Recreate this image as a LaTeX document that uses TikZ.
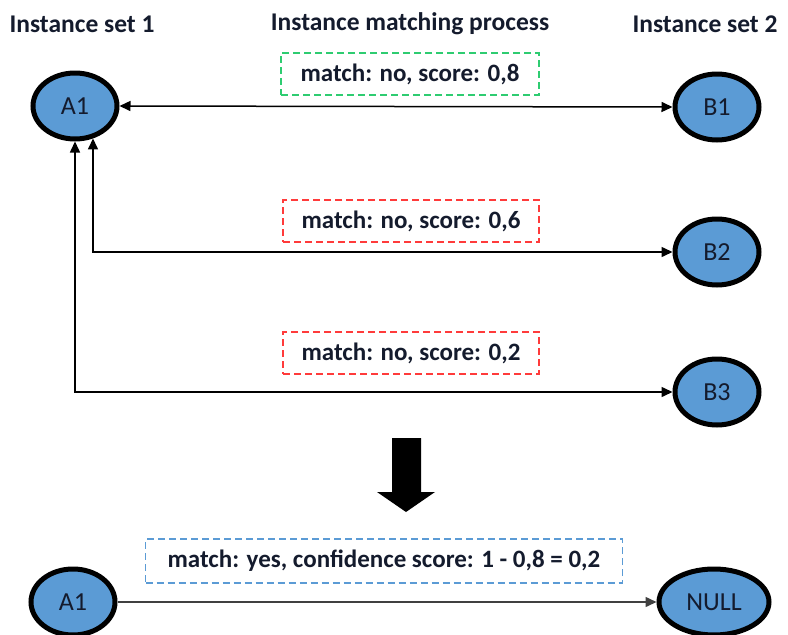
\documentclass[tikz,border=0pt]{standalone}
\usepackage{fontspec}
\setmainfont{Carlito}
\usetikzlibrary{shapes.geometric,arrows.meta,calc}
\definecolor{nodeblue}{HTML}{5B9BD5}
\definecolor{boxgreen}{HTML}{2ECC71}
\definecolor{boxred}{HTML}{FF3B3B}
\definecolor{boxblue}{HTML}{5B9BD5}
\definecolor{txt}{HTML}{141B2D}
\tikzset{
  inst/.style={ellipse, draw=black, line width=5pt, fill=nodeblue, minimum width=84pt, minimum height=66pt, inner sep=0pt, font=\fontsize{26}{30}\selectfont, text=txt},
  heading/.style={font=\bfseries\fontsize{25.5}{30}\selectfont, text=txt},
  scorebox/.style={draw, dash pattern=on 7pt off 4pt, line width=1.2pt, font=\bfseries\fontsize{25}{30}\selectfont, text=txt, inner sep=0pt, minimum height=42pt},
  conn/.style={line width=1.5pt, -{Triangle[length=11pt,width=10pt]}},
  biconn/.style={line width=1.5pt, {Triangle[length=11pt,width=10pt]}-{Triangle[length=11pt,width=10pt]}},
}
\begin{document}
\begin{tikzpicture}[x=1pt,y=-1pt]
\useasboundingbox (0,0) rectangle (788,635);
% headings
\node[heading] (h1) at (82,24) {Instance set 1};
\node[heading] (h2) at (410,24) {Instance matching process};
\node[heading] (h3) at (705,24) {Instance set 2};
% nodes
\node[inst] (A1) at (75,106) {A1};
\node[inst] (B1) at (717,107) {B1};
\node[inst] (B2) at (717,252) {B2};
\node[inst] (B3) at (717,392) {B3};
\node[inst] (A1b) at (73,602) {A1};
\node[inst, minimum width=110pt] (NULL) at (714,602) {NULL};
% score boxes
\node[scorebox, draw=boxgreen, minimum width=258pt] (s1) at (410,74) {match: no, score: 0,8};
\node[scorebox, draw=boxred, minimum width=256pt] (s2) at (411,221) {match: no, score: 0,6};
\node[scorebox, draw=boxred, minimum width=256pt] (s3) at (411,353) {match: no, score: 0,2};
\node[scorebox, draw=boxblue, minimum width=477pt, minimum height=44pt] (s4) at (384,561) {match: yes, confidence score: 1 - 0,8 = 0,2};
% connectors
\draw[biconn] (A1.east) -- (B1.west);
\draw[biconn] (A1.-61) |- (B2.west);
\draw[biconn] (A1.south) |- (B3.west);
\draw[conn, draw=black!75] (A1b.east) -- (NULL.west);
% big down arrow
\fill[black] (392,438) -- (421,438) -- (421,492) -- (435,492) -- (406,512) -- (377,492) -- (392,492) -- cycle;
\end{tikzpicture}
\end{document}
